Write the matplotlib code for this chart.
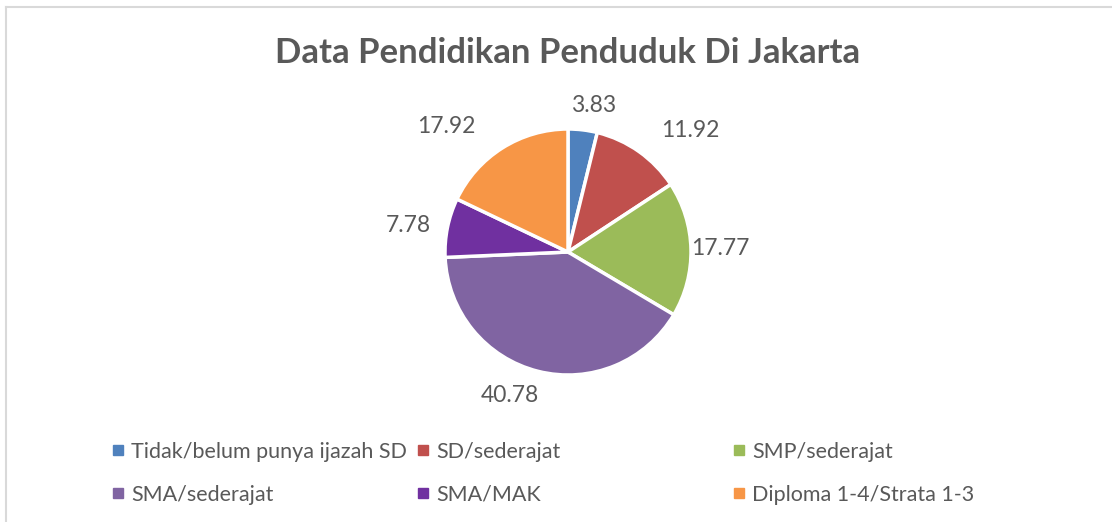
import matplotlib.pyplot as plt
from matplotlib.lines import Line2D
import numpy as np

plt.rcParams['font.family'] = ['Lato', 'DejaVu Sans']

# data
categories = ['Tidak/belum punya ijazah SD', 'SD/sederajat', 'SMP/sederajat',
              'SMA/sederajat', 'SMA/MAK', 'Diploma 1-4/Strata 1-3']
values = [3.83, 11.92, 17.77, 40.78, 7.78, 17.92]
colors = ['#4F81BD', '#C0504D', '#9BBB59', '#8064A2', '#7030A0', '#F79646']

text_col = '#595959'

fig = plt.figure(figsize=(11.12, 5.22), dpi=100)

# chart frame (excel style)
fig.add_artist(Line2D([6/1112, 6/1112], [-0.1, 515/522], color='#D9D9D9', lw=1.5))
fig.add_artist(Line2D([6/1112, 1.1], [515/522, 515/522], color='#D9D9D9', lw=1.5))

ax = fig.add_axes([(568 - 123) / 1112, (270 - 123) / 522, 246 / 1112, 246 / 522])
wedges, _ = ax.pie(values, colors=colors, startangle=90, counterclock=False,
                   radius=1.0, wedgeprops=dict(edgecolor='white', linewidth=2.5))
ax.set_xlim(-1, 1)
ax.set_ylim(-1, 1)
ax.set_aspect('equal')
ax.axis('off')

# data labels outside (best fit-ish)
label_dist = [1.21, 1.40, 1.24, 1.26, 1.32, 1.42]
label_shift = [-3, -10, 0, -8, 2, 12]  # degrees
for w, v, d, s in zip(wedges, values, label_dist, label_shift):
    th = np.deg2rad((w.theta1 + w.theta2) / 2 + s)
    ax.text(d * np.cos(th), d * np.sin(th), f'{v:.2f}', ha='center', va='center',
            fontsize=16.5, color=text_col)

fig.text(0.5103, 1 - 53 / 522, 'Data Pendidikan Penduduk Di Jakarta', ha='center', va='center',
         fontsize=25, fontweight='bold', color=text_col)

# legend, 3 columns placed separately
def handle(c):
    return Line2D([], [], marker='s', linestyle='none', markersize=7,
                  markerfacecolor=c, markeredgecolor=c)

col_x = [112, 417, 733]
for j in range(3):
    idx = [j, j + 3]
    leg = fig.legend([handle(colors[i]) for i in idx], [categories[i] for i in idx],
                     loc='upper left', bbox_to_anchor=(col_x[j] / 1112, 1 - 442 / 522),
                     frameon=False, fontsize=15.5, labelcolor=text_col,
                     handlelength=0.6, handletextpad=0.3, labelspacing=1.05,
                     borderpad=0, borderaxespad=0)

fig.savefig('out.png', dpi=100)
